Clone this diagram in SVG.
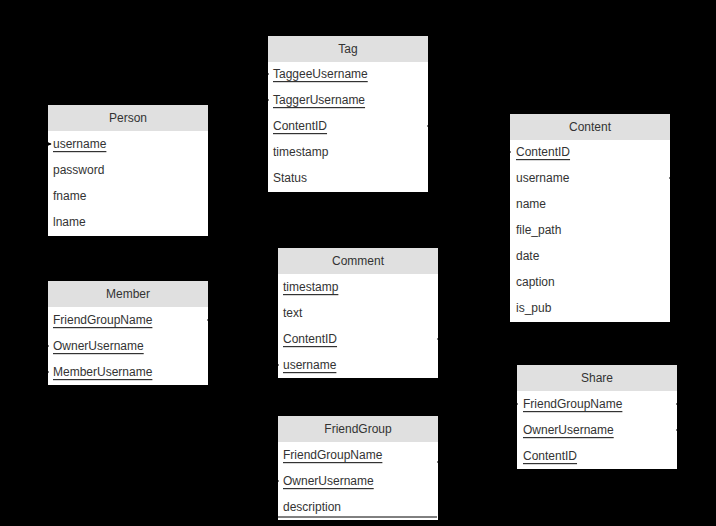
<svg xmlns="http://www.w3.org/2000/svg" width="716" height="526" viewBox="0 0 716 526">
  <defs>
    <style>
      .box { fill: #ffffff; }
      .head { fill: #e0e0e0; }
      .title { font-family: "Liberation Sans", Arial, sans-serif; font-size: 12px; fill: #333333; text-anchor: middle; dominant-baseline: central; }
      .attr { font-family: "Liberation Sans", Arial, sans-serif; font-size: 12px; fill: #333333; dominant-baseline: central; }
      .key { text-decoration: underline; }
      .edge { fill: none; stroke: #000000; stroke-width: 1; }
    </style>
    <marker id="arrow" viewBox="0 0 10 10" refX="9" refY="5" markerWidth="7" markerHeight="7" orient="auto">
      <path d="M0,0 L10,5 L0,10 Z" fill="#000000"/>
    </marker>
  </defs>

  <rect x="0" y="0" width="716" height="526" fill="#000000"/>

  <!-- tables -->
  <g id="person">
    <rect class="box" x="48" y="105" width="160" height="131"/>
    <rect class="head" x="48" y="105" width="160" height="26"/>
    <text class="title" x="128" y="118">Person</text>
    <text class="attr key" x="53" y="144">username</text>
    <text class="attr" x="53" y="170">password</text>
    <text class="attr" x="53" y="196">fname</text>
    <text class="attr" x="53" y="222">lname</text>
  </g>

  <g id="tag">
    <rect class="box" x="268" y="36" width="160" height="156"/>
    <rect class="head" x="268" y="36" width="160" height="26"/>
    <text class="title" x="348" y="49">Tag</text>
    <text class="attr key" x="273" y="74">TaggeeUsername</text>
    <text class="attr key" x="273" y="100">TaggerUsername</text>
    <text class="attr key" x="273" y="126">ContentID</text>
    <text class="attr" x="273" y="152">timestamp</text>
    <text class="attr" x="273" y="178">Status</text>
  </g>

  <g id="content">
    <rect class="box" x="510" y="114" width="160" height="208"/>
    <rect class="head" x="510" y="114" width="160" height="26"/>
    <text class="title" x="590" y="127">Content</text>
    <text class="attr key" x="516" y="152">ContentID</text>
    <text class="attr" x="516" y="178">username</text>
    <text class="attr" x="516" y="204">name</text>
    <text class="attr" x="516" y="230">file_path</text>
    <text class="attr" x="516" y="256">date</text>
    <text class="attr" x="516" y="282">caption</text>
    <text class="attr" x="516" y="308">is_pub</text>
  </g>

  <g id="member">
    <rect class="box" x="48" y="281" width="160" height="104"/>
    <rect class="head" x="48" y="281" width="160" height="26"/>
    <text class="title" x="128" y="294">Member</text>
    <text class="attr key" x="53" y="320">FriendGroupName</text>
    <text class="attr key" x="53" y="346">OwnerUsername</text>
    <text class="attr key" x="53" y="372">MemberUsername</text>
  </g>

  <g id="comment">
    <rect class="box" x="278" y="248" width="160" height="130"/>
    <rect class="head" x="278" y="248" width="160" height="26"/>
    <text class="title" x="358" y="261">Comment</text>
    <text class="attr key" x="283" y="287">timestamp</text>
    <text class="attr" x="283" y="313">text</text>
    <text class="attr key" x="283" y="339">ContentID</text>
    <text class="attr key" x="283" y="365">username</text>
  </g>

  <g id="friendgroup">
    <rect class="box" x="278" y="416" width="160" height="104"/>
    <rect class="head" x="278" y="416" width="160" height="26"/>
    <text class="title" x="358" y="429">FriendGroup</text>
    <text class="attr key" x="283" y="455">FriendGroupName</text>
    <text class="attr key" x="283" y="481">OwnerUsername</text>
    <text class="attr" x="283" y="507">description</text>
  </g>

  <g id="share">
    <rect class="box" x="517" y="365" width="160" height="104"/>
    <rect class="head" x="517" y="365" width="160" height="26"/>
    <text class="title" x="597" y="378">Share</text>
    <text class="attr key" x="523" y="404">FriendGroupName</text>
    <text class="attr key" x="523" y="430">OwnerUsername</text>
    <text class="attr key" x="523" y="456">ContentID</text>
  </g>

  <!-- foreign-key connectors -->
  <g id="connectors">
    <path class="edge" d="M269,74 H240 V20 H30 V144 H51" marker-end="url(#arrow)"/>
    <path class="edge" d="M269,100 H240 V20"/>
    <path class="edge" d="M427,126 H470 V152 H511"/>
    <path class="edge" d="M669,178 H700 V10 H30 V144"/>
    <path class="edge" d="M207,320 H250 V400 H460 V462 H437"/>
    <path class="edge" d="M49,346 H30 V144"/>
    <path class="edge" d="M49,372 H30 V346"/>
    <path class="edge" d="M437,339 H480 V152 H510"/>
    <path class="edge" d="M279,365 H250 V240 H30"/>
    <path class="edge" d="M279,481 H260 V517 H437"/>
    <path class="edge" d="M518,404 H460"/>
    <path class="edge" d="M676,404 H700 V178 H670"/>
    <path class="edge" d="M676,430 H705 V178"/>
  </g>
</svg>
